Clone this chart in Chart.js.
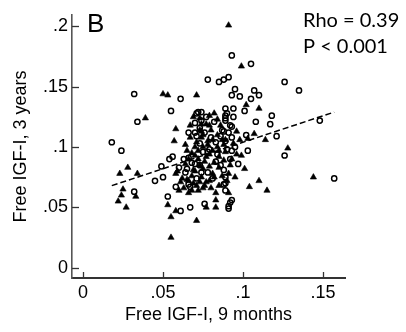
<!DOCTYPE html>
<html>
<head>
<meta charset="utf-8">
<script src="https://cdn.jsdelivr.net/npm/chart.js@4.4.1/dist/chart.umd.min.js"></script>
<style>
  html, body { margin: 0; padding: 0; background: #fff; }
  #wrap { width: 406px; height: 332px; }
</style>
</head>
<body>
<div id="wrap"><canvas id="chart" width="406" height="332"></canvas></div>
<script>
/* ── Free IGF-I scatter, panel B ── */

// ── Axes ──
const xTicks = [0, 0.05, 0.1, 0.15];
const xTickLabels = ['0', '.05', '.1', '.15'];
const yTicks = [0, 0.05, 0.1, 0.15, 0.2];
const yTickLabels = ['0', '.05', '.1', '.15', '.2'];

// ── Hollow circles ──
const circleX = [0.032, 0.061, 0.055, 0.034, 0.018, 0.024, 0.066, 0.072, 0.093, 0.105,
  0.078, 0.085, 0.088, 0.091, 0.126, 0.135, 0.095, 0.093, 0.098, 0.107,
  0.110, 0.105, 0.101, 0.089, 0.094, 0.090, 0.089, 0.074, 0.071, 0.089,
  0.092, 0.118, 0.108, 0.117, 0.148, 0.070, 0.102, 0.121, 0.126, 0.095,
  0.103, 0.157, 0.089, 0.089, 0.076, 0.093, 0.092, 0.091, 0.067, 0.061,
  0.032, 0.045, 0.050, 0.049, 0.053, 0.054, 0.056, 0.063, 0.066, 0.058,
  0.074, 0.089, 0.088, 0.086, 0.073, 0.089, 0.060, 0.064, 0.073, 0.078,
  0.088, 0.066, 0.089, 0.067, 0.088, 0.091, 0.093, 0.091, 0.093, 0.090,
  0.093, 0.077, 0.071, 0.079, 0.083, 0.070, 0.092, 0.081, 0.097, 0.075,
  0.070, 0.073, 0.076, 0.080, 0.083, 0.068, 0.074, 0.084, 0.087, 0.078,
  0.082, 0.065, 0.071, 0.086, 0.094];
const circleY = [0.144, 0.140, 0.130, 0.121, 0.104, 0.097, 0.112, 0.129, 0.176, 0.169,
  0.156, 0.154, 0.156, 0.158, 0.154, 0.147, 0.148, 0.143, 0.142, 0.147,
  0.143, 0.140, 0.130, 0.132, 0.132, 0.128, 0.126, 0.129, 0.128, 0.122,
  0.118, 0.126, 0.121, 0.119, 0.122, 0.112, 0.110, 0.109, 0.093, 0.100,
  0.097, 0.074, 0.070, 0.064, 0.053, 0.056, 0.054, 0.049, 0.050, 0.047,
  0.063, 0.072, 0.075, 0.084, 0.059, 0.090, 0.092, 0.090, 0.091, 0.067,
  0.122, 0.124, 0.113, 0.109, 0.103, 0.105, 0.083, 0.079, 0.085, 0.079,
  0.081, 0.069, 0.075, 0.067, 0.069, 0.051, 0.117, 0.112, 0.108, 0.098,
  0.097, 0.125, 0.109, 0.098, 0.088, 0.086, 0.090, 0.074, 0.086, 0.096,
  0.120, 0.116, 0.112, 0.108, 0.104, 0.087, 0.079, 0.094, 0.114, 0.096,
  0.121, 0.082, 0.074, 0.085, 0.125];

// ── Filled triangles ──
const triX = [0.050, 0.053, 0.071, 0.039, 0.058, 0.057, 0.069, 0.091, 0.099, 0.102,
  0.110, 0.084, 0.074, 0.074, 0.107, 0.114, 0.128, 0.081, 0.099, 0.144,
  0.110, 0.104, 0.115, 0.101, 0.095, 0.085, 0.083, 0.077, 0.083, 0.071,
  0.023, 0.028, 0.034, 0.025, 0.024, 0.022, 0.027, 0.033, 0.053, 0.055,
  0.058, 0.055, 0.059, 0.073, 0.073, 0.075, 0.087, 0.070, 0.072, 0.070,
  0.077, 0.079, 0.085, 0.088, 0.058, 0.069, 0.075, 0.081, 0.061, 0.065,
  0.069, 0.073, 0.077, 0.063, 0.066, 0.072, 0.075, 0.098, 0.103, 0.093,
  0.092, 0.091, 0.064, 0.079, 0.089, 0.067, 0.096, 0.084, 0.064, 0.091,
  0.078, 0.089,
  0.066, 0.068, 0.071, 0.074, 0.076, 0.079, 0.082, 0.070, 0.073, 0.076,
  0.079, 0.082, 0.085, 0.072, 0.075, 0.078, 0.081, 0.084, 0.080, 0.077,
  0.071, 0.068, 0.066, 0.086, 0.082, 0.079, 0.085, 0.087, 0.094, 0.096,
  0.062, 0.060, 0.068, 0.080, 0.083, 0.090, 0.074, 0.067, 0.065, 0.088];
const triY = [0.144, 0.143, 0.143, 0.124, 0.115, 0.105, 0.125, 0.201, 0.167, 0.135,
  0.132, 0.123, 0.113, 0.108, 0.111, 0.106, 0.099, 0.106, 0.093, 0.075,
  0.072, 0.067, 0.064, 0.082, 0.075, 0.068, 0.056, 0.050, 0.050, 0.039,
  0.078, 0.083, 0.078, 0.065, 0.060, 0.055, 0.050, 0.059, 0.052, 0.042,
  0.047, 0.025, 0.080, 0.124, 0.114, 0.110, 0.106, 0.100, 0.097, 0.093,
  0.092, 0.094, 0.092, 0.089, 0.078, 0.081, 0.082, 0.078, 0.071, 0.073,
  0.070, 0.071, 0.071, 0.066, 0.062, 0.064, 0.066, 0.106, 0.107, 0.090,
  0.085, 0.078, 0.102, 0.118, 0.096, 0.118, 0.113, 0.100, 0.086, 0.062,
  0.105, 0.106,
  0.072, 0.076, 0.068, 0.075, 0.068, 0.072, 0.075, 0.080, 0.085, 0.088,
  0.084, 0.087, 0.083, 0.090, 0.100, 0.102, 0.097, 0.110, 0.114, 0.119,
  0.104, 0.095, 0.090, 0.118, 0.128, 0.126, 0.097, 0.076, 0.103, 0.094,
  0.074, 0.064, 0.064, 0.066, 0.062, 0.072, 0.119, 0.108, 0.097, 0.102];

// ── Fitted line ──
const fitX = [0.018, 0.157];
const fitY = [0.068, 0.129];

const AXIS = '#333';
const FONT = "'Liberation Sans', Arial, sans-serif";

const pts = (xs, ys) => xs.map((x, i) => ({ x, y: ys[i] }));

// ── Inward ticks + panel annotations ──
const decor = {
  id: 'decor',
  afterDraw(chart) {
    const { ctx, scales: { x, y }, chartArea } = chart;
    ctx.save();
    ctx.strokeStyle = AXIS;
    ctx.lineWidth = 1.3;
    xTicks.forEach(v => {
      const px = Math.round(x.getPixelForValue(v)) + 0.5;
      ctx.beginPath();
      ctx.moveTo(px, chartArea.bottom);
      ctx.lineTo(px, chartArea.bottom - 6);
      ctx.stroke();
    });
    yTicks.forEach(v => {
      const py = Math.round(y.getPixelForValue(v)) + 0.5;
      ctx.beginPath();
      ctx.moveTo(chartArea.left, py);
      ctx.lineTo(chartArea.left + 7, py);
      ctx.stroke();
    });

    ctx.fillStyle = '#000';
    ctx.textAlign = 'left';
    ctx.textBaseline = 'alphabetic';
    ctx.font = `26px ${FONT}`;
    ctx.fillText('B', chartArea.left + 15, 32);
    ctx.font = "20px Lato, 'Open Sans', sans-serif";
    ctx.fillText('Rho = 0.39', 303, 27);
    ctx.fillText('P < 0.001', 303, 53);
    ctx.restore();
  }
};

new Chart(document.getElementById('chart'), {
  type: 'scatter',
  data: {
    datasets: [
      {
        label: 'circles',
        data: pts(circleX, circleY),
        pointStyle: 'circle',
        pointRadius: 2.6,
        borderWidth: 1.5,
        borderColor: '#000',
        backgroundColor: 'rgba(0,0,0,0)',
      },
      {
        label: 'triangles',
        data: pts(triX, triY),
        pointStyle: 'triangle',
        pointRadius: 3.6,
        borderWidth: 0.6,
        borderColor: '#000',
        backgroundColor: '#000',
      },
      {
        type: 'line',
        label: 'fit',
        data: pts(fitX, fitY),
        borderColor: '#000',
        borderWidth: 1.5,
        borderDash: [6, 3],
        pointRadius: 0,
        fill: false,
      },
    ]
  },
  options: {
    responsive: false,
    animation: false,
    devicePixelRatio: 1,
    layout: { padding: { left: 0, right: 61, top: 6, bottom: 0 } },
    plugins: {
      legend: { display: false },
      tooltip: { enabled: false },
    },
    scales: {
      x: {
        type: 'linear',
        min: -0.006875,
        max: 0.16375,
        afterBuildTicks: s => { s.ticks = xTicks.map(v => ({ value: v })); },
        afterFit: s => { s.height = 54; },
        grid: { display: false, drawTicks: false },
        border: { display: true, color: AXIS, width: 2 },
        ticks: {
          color: '#000',
          padding: 4,
          maxRotation: 0,
          font: { family: FONT, size: 18 },
          callback: (v, i) => xTickLabels[i],
        },
        title: {
          display: true,
          text: 'Free IGF-I, 9 months',
          color: '#000',
          font: { family: FONT, size: 18 },
          padding: { top: 0, bottom: 6 },
        },
      },
      y: {
        type: 'linear',
        min: -0.0086,
        max: 0.2097,
        afterBuildTicks: s => { s.ticks = yTicks.map(v => ({ value: v })); },
        afterFit: s => { s.width = 72; },
        grid: { display: false, drawTicks: false },
        border: { display: true, color: '#555', width: 1.6 },
        ticks: {
          color: '#000',
          padding: 4,
          font: { family: FONT, size: 18 },
          callback: (v, i) => yTickLabels[i],
        },
        title: {
          display: true,
          text: 'Free IGF-I, 3 years',
          color: '#000',
          font: { family: FONT, size: 18 },
          padding: { top: 10, bottom: 0 },
        },
      },
    },
  },
  plugins: [decor],
});
</script>
</body>
</html>
